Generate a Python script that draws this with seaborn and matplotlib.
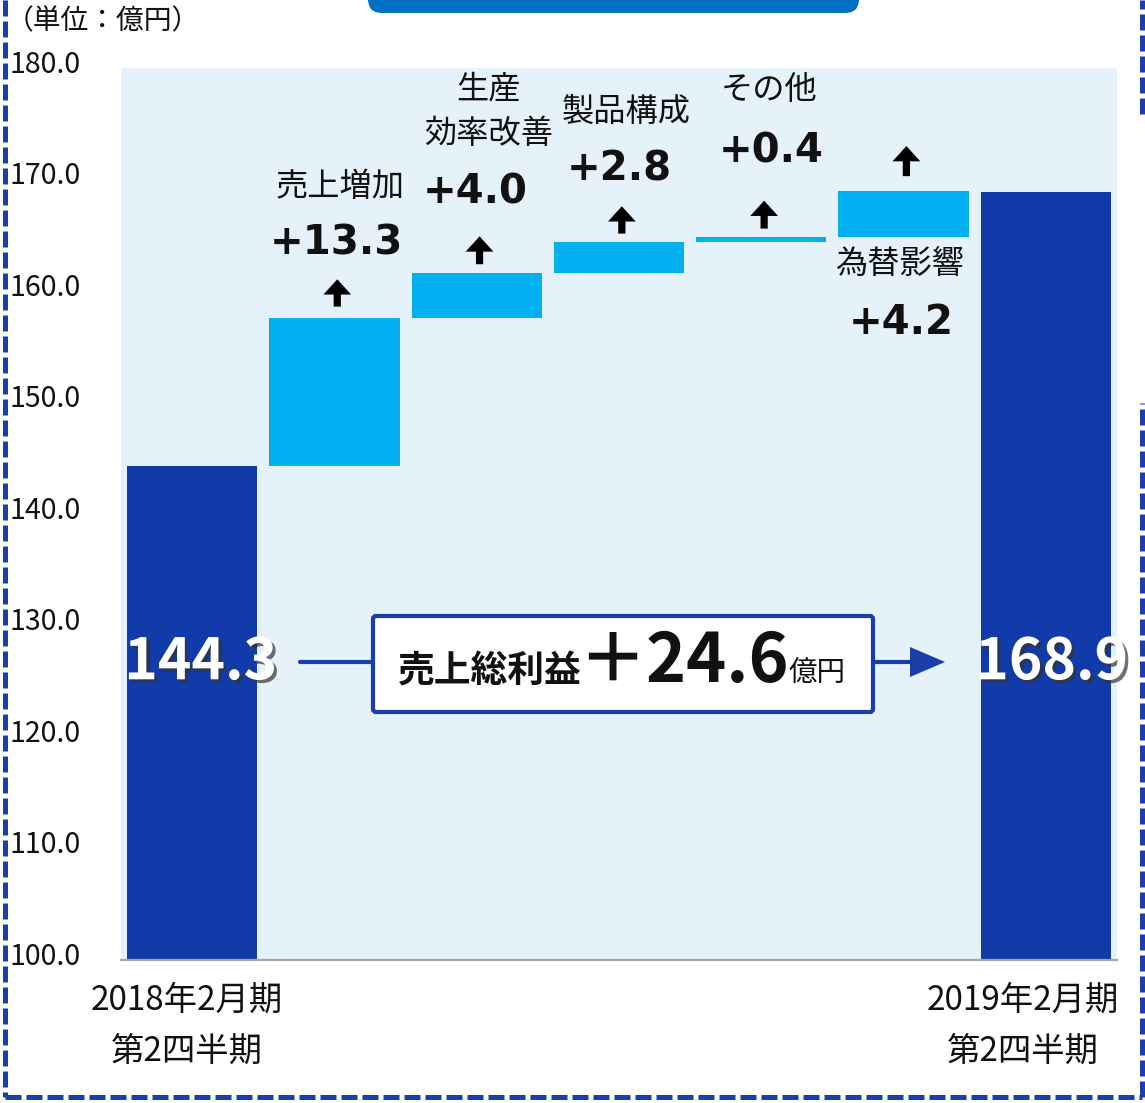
import numpy as np
import pandas as pd
import matplotlib
matplotlib.use("Agg")
import matplotlib.pyplot as plt
import matplotlib.transforms as mtransforms
import matplotlib.patheffects as pe
from matplotlib.patches import FancyBboxPatch, Polygon
from matplotlib.lines import Line2D
import seaborn as sns

# ---------------- data ----------------
categories = ["2018年2月期\n第2四半期", "売上増加", "生産\n効率改善", "製品構成",
              "その他", "為替影響", "2019年2月期\n第2四半期"]
start_total = 144.3
changes = [13.3, 4.0, 2.8, 0.4, 4.2]
end_total = 168.9
change_labels = ["+13.3", "+4.0", "+2.8", "+0.4", "+4.2"]
total_labels = ["144.3", "168.9"]
gain_prefix = "売上総利益"
gain_value = "＋24.6"
gain_unit = "億円"
unit_label = "（単位：億円）"
y_ticks = [100, 110, 120, 130, 140, 150, 160, 170, 180]

# ---------------- style ----------------
sns.set_style("white")
plt.rcParams["font.family"] = ["Noto Sans CJK JP", "DejaVu Sans"]

W, H = 1145, 1103
DARK = "#113BA9"
CYAN = "#00B0F0"
BG = "#E5F2FA"
LINE = "#1A3EAA"
GRAY = "#A6A6A6"
ID = mtransforms.IdentityTransform()

fig = plt.figure(figsize=(W / 100, H / 100), dpi=100)
fig.patch.set_facecolor("white")
ax = fig.add_axes([121 / W, 1 - 960 / H, 996 / W, 892 / H])
ax.set_facecolor(BG)

# waterfall geometry from the data
tops, bottoms, kinds = [start_total], [0.0], ["total"]
level = start_total
for c in changes:
    bottoms.append(level)
    level = level + c
    tops.append(level)
    kinds.append("change")
tops.append(end_total)
bottoms.append(0.0)
kinds.append("total")
df = pd.DataFrame({"cat": categories, "top": tops, "bottom": bottoms, "kind": kinds})

sns.barplot(data=df, x="cat", y="top", hue="kind", order=categories,
            palette={"total": DARK, "change": CYAN}, dodge=False, width=0.915,
            saturation=1, legend=False, ax=ax, linewidth=0)
for p in ax.patches:
    h = p.get_height()
    if h is None or np.isnan(h):
        continue
    idx = int(round(p.get_x() + p.get_width() / 2))
    p.set_y(df["bottom"][idx])
    p.set_height(df["top"][idx] - df["bottom"][idx])

ax.set_xlim(-0.5, len(categories) - 0.5)
ax.set_ylim(100, 180)
ax.set_xlabel("")
ax.set_ylabel("")
for s in ["left", "top", "right"]:
    ax.spines[s].set_visible(False)
ax.spines["bottom"].set_color(GRAY)
ax.spines["bottom"].set_linewidth(1.6)
ax.set_xticks([])
ax.set_xticks(np.arange(-0.5, len(categories), 1.0), minor=True)
ax.tick_params(axis="x", which="minor", direction="in", length=8, width=1.5, color=GRAY)
ax.set_yticks(y_ticks, labels=[f"{v:.1f}" for v in y_ticks], ha="left")
ax.tick_params(axis="y", length=0, pad=80.6, labelsize=20.5, labelcolor="#111111")
lift = mtransforms.ScaledTranslation(0, 5 / 72, fig.dpi_scale_trans)
for t in ax.yaxis.get_major_ticks():
    t.label1.set_transform(t.label1.get_transform() + lift)

# ---------------- annotations of the changes ----------------
# (dx name, y name rel, dx value, y value rel, arrow base rel, arrow tip rel, below)
layout = [
    (0.04, 11.75, 0.015, 6.7, 1.0, 3.45, False),
    (0.085, 14.45, -0.01, 7.2, 0.8, 3.3, False),
    (0.05, 11.7, 0.0, 6.5, 0.75, 3.2, False),
    (0.055, 13.2, 0.07, 7.7, 0.8, 3.3, False),
    (-0.03, -2.35, -0.015, -7.7, 1.3, 4.0, True),
]
for k, (name, lab) in enumerate(zip(categories[1:-1], change_labels)):
    i = k + 1
    dxn, yn, dxv, yv, ab, at, below = layout[k]
    top, bot = df["top"][i], df["bottom"][i]
    ref = bot if below else top
    ax.text(i + dxn, ref + yn, name, ha="center", va="center", fontsize=23.2,
            color="#111111", linespacing=1.5, multialignment="center")
    ax.text(i + dxv, ref + yv, lab, ha="center", va="center", fontsize=29,
            fontweight="bold", family="DejaVu Sans", color="#111111")
    ax.annotate("", xy=(i + 0.02, top + at), xytext=(i + 0.02, top + ab),
                arrowprops=dict(arrowstyle="simple,head_length=0.55,head_width=1.0,tail_width=0.26",
                                mutation_scale=20, color="black", shrinkA=0, shrinkB=0, lw=0))

# ---------------- totals inside bars ----------------
shadow = [pe.SimplePatchShadow(offset=(2.2, -2.2), shadow_rgbFace="#333333", alpha=0.7), pe.Normal()]
for i, lab, dx in [(0, total_labels[0], 0.06), (len(categories) - 1, total_labels[1], 0.04)]:
    ax.text(i + dx, 126.7, lab, ha="center", va="center", fontsize=41, fontweight="bold",
            color="white", path_effects=shadow, zorder=5)

# ---------------- bottom category labels ----------------
xt = ax.get_xaxis_transform()
for i, dx in [(0, -0.035), (len(categories) - 1, -0.16)]:
    ax.text(i + dx, -0.074, categories[i], transform=xt, ha="center", va="center",
            fontsize=24, color="#111111", linespacing=1.6, multialignment="center")

# ---------------- unit label ----------------
fig.text(6, H - 21, unit_label, transform=ID, ha="left", va="center", fontsize=20, color="#111111")

# ---------------- central summary box & arrow ----------------
box = FancyBboxPatch((373, H - 712), 500, 96, boxstyle="round,pad=0,rounding_size=3",
                     transform=ID, facecolor="white", edgecolor=LINE, linewidth=3.0, zorder=6)
fig.add_artist(box)
ybase = H - 682
fig.text(398, ybase, gain_prefix, transform=ID, ha="left", va="baseline", fontsize=26.5,
         fontweight="bold", color="#111111", zorder=7)
fig.text(578, ybase, gain_value, transform=ID, ha="left", va="baseline", fontsize=49,
         fontweight="bold", color="#111111", zorder=7)
fig.text(789, ybase, gain_unit, transform=ID, ha="left", va="baseline", fontsize=20.5,
         color="#111111", zorder=7)
yl = H - 662
fig.add_artist(Line2D([300, 373], [yl, yl], transform=ID, color=LINE, linewidth=3.0, zorder=6))
fig.add_artist(Line2D([873, 912], [yl, yl], transform=ID, color=LINE, linewidth=3.0, zorder=6))
fig.add_artist(Polygon([[910, yl + 15], [945, yl], [910, yl - 15]], closed=True, transform=ID,
                       facecolor=LINE, edgecolor="none", zorder=6))

# ---------------- decorative frame ----------------
banner = FancyBboxPatch((368, H - 13), 491, 60, boxstyle="round,pad=0,rounding_size=14",
                        transform=ID, facecolor="#0070C0", edgecolor="none")
fig.add_artist(banner)
dash = (0, (3.2, 1.0))
for xs, ys in [([5, 5], [H, H - 1097]),
               ([5, 1142], [H - 1097, H - 1097]),
               ([1142, 1142], [H - 1097, H - 403]),
               ([1142, 1142], [H - 114, H])]:
    fig.add_artist(Line2D(xs, ys, transform=ID, color=LINE, linewidth=3.6, linestyle=dash))

fig.savefig("out.png", dpi=100, facecolor="white")
